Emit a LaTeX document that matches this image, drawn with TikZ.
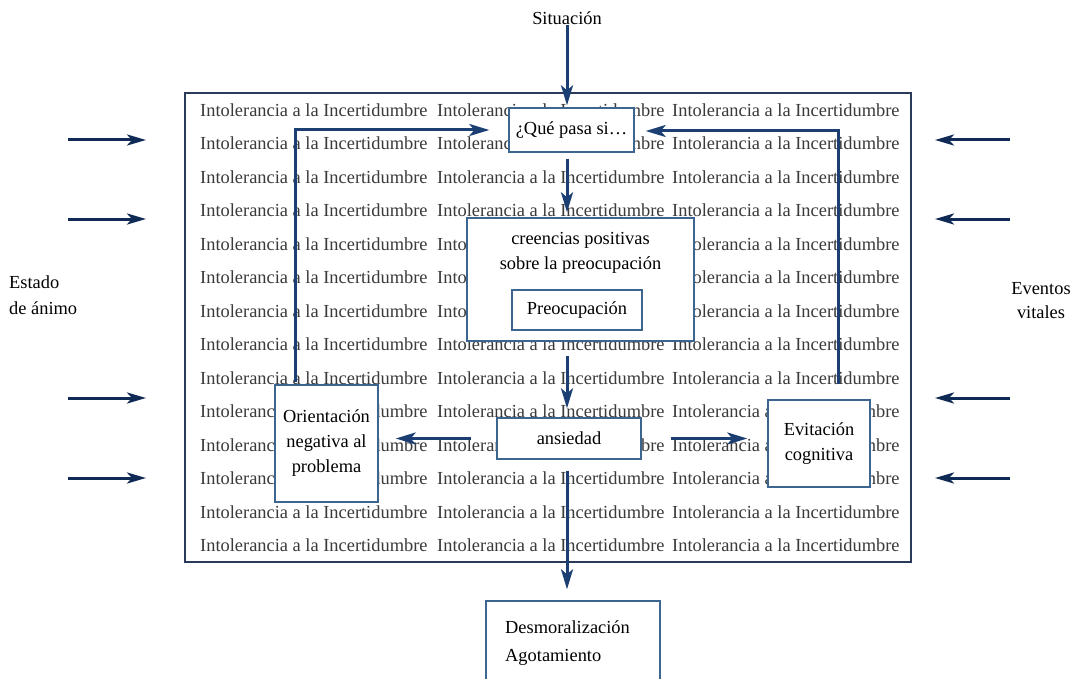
\documentclass[tikz,border=0pt]{standalone}
\usepackage{fontspec}
\setmainfont{Liberation Serif}
\usetikzlibrary{arrows.meta}
\definecolor{arrowblue}{HTML}{1B3F73}
\definecolor{darkarrow}{HTML}{0F2A55}
\definecolor{boxblue}{HTML}{3C6690}
\definecolor{framecol}{HTML}{2B3A58}
\definecolor{bgtext}{HTML}{3A3A3A}
\tikzset{
  txt/.style={inner sep=0pt, font=\fontsize{18.4}{25}\selectfont, text=black},
  bgtxt/.style={inner sep=0pt, anchor=west, font=\fontsize{18.4}{22}\selectfont, text=bgtext},
  boxnode/.style={draw=boxblue, line width=1.4pt, fill=white, inner sep=0pt,
    font=\fontsize{18.4}{25}\selectfont, align=center},
  framebox/.style={draw=framecol, line width=1.5pt, inner sep=0pt},
  arr/.style={draw=arrowblue, line width=3pt, -{Stealth[length=20pt,width=12pt,inset=5pt]}},
  sidearr/.style={draw=darkarrow, line width=3pt, -{Stealth[length=19pt,width=11pt,inset=5pt]}}
}
\begin{document}
\begin{tikzpicture}[x=1pt,y=-1pt]
\useasboundingbox (0,0) rectangle (1075,679);
\clip (0,0) rectangle (1075,679);
\fill[white] (0,0) rectangle (1075,679);

% frame
\node[framebox, minimum width=726, minimum height=469] (frm) at (548,327.5) {};

% background text
\foreach \r in {0,...,13}{
  \foreach \c/\k in {200/a,437/b,672/c}{
    \node[bgtxt] (bg-\r-\k) at (\c,{110+33.5*\r}) {Intolerancia a la Incertidumbre};
  }
}

% labels
\node[txt] (sit) at (567,18) {Situación};
\node[txt, anchor=west, align=left, font=\fontsize{18.4}{26}\selectfont] (est) at (9,295) {Estado\\de ánimo};
\node[txt, align=center, font=\fontsize{18.4}{24}\selectfont] (eve) at (1041,301) {Eventos\\vitales};

% boxes
\node[boxnode, minimum width=125, minimum height=44] (que) at (571.5,130) {¿Qué pasa si…};
\node[boxnode, minimum width=227, minimum height=123] (cre) at (580.5,279.5) {};
\node[txt, align=center] (cretxt) at (580.5,252.5) {creencias positivas\\sobre la preocupación};
\node[boxnode, minimum width=130, minimum height=40] (pre) at (577,310) {Preocupación};
\node[boxnode, minimum width=144, minimum height=41] (ans) at (569,438.5) {ansiedad};
\node[boxnode, minimum width=103, minimum height=117] (ori) at (326.5,443.5) {Orientación\\negativa al\\problema};
\node[boxnode, minimum width=102, minimum height=87] (evi) at (819,443.5) {Evitación\\cognitiva};
\node[boxnode, minimum width=174, minimum height=110] (des) at (573,656) {};
\node[txt, anchor=west, align=left, font=\fontsize{18.4}{28}\selectfont] (destxt) at (505,643) {Desmoralización\\Agotamiento};

% central arrows
\draw[arr, shorten >=2pt] (sit.south) -- (sit.south |- que.north);
\draw[arr, shorten <=6pt, shorten >=5pt] (que.south -| sit.south) -- (cre.north -| sit.south);
\draw[arr, shorten <=14pt, shorten >=9pt] (cre.south -| sit.south) -- (ans.north -| sit.south);
\draw[arr, shorten <=11pt, shorten >=11pt] (ans.south -| sit.south) -- (des.north -| sit.south);
\draw[arr, shorten <=25pt, shorten >=17pt] (ans.west) -- (ans.west -| ori.east);
\draw[arr, shorten <=29pt, shorten >=20pt] (ans.east) -- (ans.east -| evi.west);

% feedback loops
\coordinate (rl) at (838,131);
\coordinate (ll) at (295,130);
\draw[arr, shorten <=15pt, shorten >=11pt] (evi.north -| rl) -- (rl) -- (rl -| que.east);
\draw[arr, shorten <=2pt, shorten >=19pt] (ori.north -| ll) -- (ll) -- (ll -| que.west);

% side arrows
\foreach \y [count=\i] in {140,219,398,478}{
  \coordinate (La\i) at (68,\y);
  \coordinate (Lb\i) at (146,\y);
  \draw[sidearr] (La\i) -- (Lb\i);
  \coordinate (Ra\i) at (1010,\y);
  \coordinate (Rb\i) at (935,\y);
  \draw[sidearr] (Ra\i) -- (Rb\i);
}
\end{tikzpicture}
\end{document}
